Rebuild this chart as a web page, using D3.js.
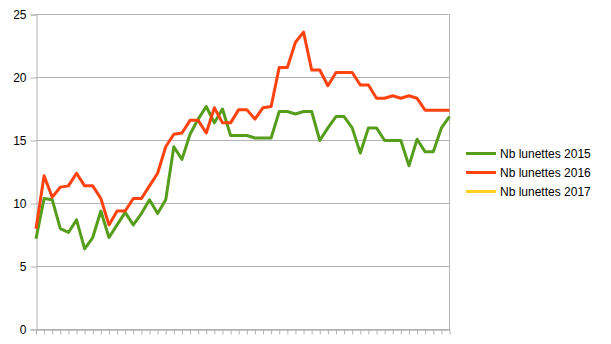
<!DOCTYPE html>
<html>
<head>
<meta charset="utf-8">
<script src="https://cdn.jsdelivr.net/npm/d3@7"></script>
<style>
  body { margin: 0; background: #fff; }
  text { font-family: "Liberation Sans", Arial, sans-serif; }
</style>
</head>
<body>
<div id="container"></div>
<script>
// Donnees (52 semaines)
var semaines = d3.range(1, 53);
var lunettes2015 = [7.2, 10.4, 10.3, 8.0, 7.7, 8.7, 6.4, 7.3, 9.4, 7.3, 8.3, 9.3, 8.3, 9.2, 10.3, 9.2, 10.3, 14.5, 13.5, 15.5, 16.7, 17.7, 16.4, 17.5, 15.4, 15.4, 15.4, 15.2, 15.2, 15.2, 17.3, 17.3, 17.1, 17.3, 17.3, 15.0, 16.0, 16.9, 16.9, 16.0, 14.0, 16.0, 16.0, 15.0, 15.0, 15.0, 13.0, 15.1, 14.1, 14.1, 16.0, 16.9];
var lunettes2016 = [8.0, 12.2, 10.5, 11.3, 11.4, 12.4, 11.4, 11.4, 10.4, 8.3, 9.4, 9.4, 10.4, 10.4, 11.4, 12.4, 14.5, 15.5, 15.6, 16.6, 16.6, 15.6, 17.6, 16.4, 16.4, 17.45, 17.45, 16.7, 17.6, 17.7, 20.8, 20.8, 22.8, 23.6, 20.6, 20.6, 19.35, 20.4, 20.4, 20.4, 19.4, 19.4, 18.35, 18.35, 18.55, 18.35, 18.55, 18.35, 17.4, 17.4, 17.4, 17.4];
var lunettes2017 = [];
var yTicks = [0, 5, 10, 15, 20, 25];

var series = [
  { nom: "Nb lunettes 2015", valeurs: lunettes2015, couleur: "#579d1c" },
  { nom: "Nb lunettes 2016", valeurs: lunettes2016, couleur: "#ff420e" },
  { nom: "Nb lunettes 2017", valeurs: lunettes2017, couleur: "#ffd320" }
];

var svgWidth = 611, svgHeight = 344;
var plotLeft = 36, plotRight = 449.5, plotTop = 14.5, plotBottom = 329.5;

var svg = d3.select("#container")
  .append("svg")
  .attr("width", svgWidth)
  .attr("height", svgHeight);

var x = d3.scalePoint()
  .domain(semaines)
  .range([plotLeft, plotRight]);

var y = d3.scaleLinear()
  .domain([0, 25])
  .range([plotBottom, plotTop]);

// grille horizontale
svg.append("g")
  .selectAll("line")
  .data(yTicks)
  .enter().append("line")
  .attr("x1", plotLeft)
  .attr("x2", plotRight)
  .attr("y1", function (d) { return y(d); })
  .attr("y2", function (d) { return y(d); })
  .attr("stroke", "#b3b3b3")
  .attr("stroke-width", 1);

// bord droit
svg.append("line")
  .attr("x1", plotRight).attr("x2", plotRight)
  .attr("y1", plotTop).attr("y2", plotBottom)
  .attr("stroke", "#b3b3b3");

// axe y
var yAxis = svg.append("g")
  .attr("transform", "translate(" + (plotLeft + 0.5) + ",0)")
  .call(d3.axisLeft(y).tickValues(yTicks).tickSize(6).tickPadding(4));
yAxis.select(".domain").attr("stroke", "#b3b3b3");
yAxis.selectAll(".tick line").attr("stroke", "#b3b3b3");
yAxis.selectAll("text")
  .attr("fill", "#000")
  .style("font-size", "12px")
  .style("font-family", "Liberation Sans, Arial, sans-serif");

// axe x
var xAxis = svg.append("g")
  .attr("transform", "translate(0," + plotBottom + ")")
  .call(d3.axisBottom(x).tickSize(5).tickSizeOuter(0).tickFormat(""));
xAxis.select(".domain").attr("stroke", "#b3b3b3").attr("stroke-width", 1.5);
xAxis.selectAll(".tick line").attr("stroke", "#b3b3b3");

// courbes
var line = d3.line()
  .x(function (d, i) { return x(semaines[i]); })
  .y(function (d) { return y(d); });

series.forEach(function (s) {
  if (!s.valeurs.length) return;
  svg.append("path")
    .datum(s.valeurs)
    .attr("d", line)
    .attr("fill", "none")
    .attr("stroke", s.couleur)
    .attr("stroke-width", 3)
    .attr("stroke-linejoin", "round");
});

// legende
var legende = svg.append("g")
  .selectAll("g")
  .data(series)
  .enter().append("g")
  .attr("transform", function (d, i) { return "translate(466," + (153.5 + i * 19) + ")"; });

legende.append("line")
  .attr("x1", 0).attr("x2", 30)
  .attr("stroke", function (d) { return d.couleur; })
  .attr("stroke-width", 3);

legende.append("text")
  .attr("x", 34)
  .attr("dy", "0.35em")
  .style("font-size", "12px")
  .attr("fill", "#000")
  .text(function (d) { return d.nom; });
</script>
</body>
</html>
